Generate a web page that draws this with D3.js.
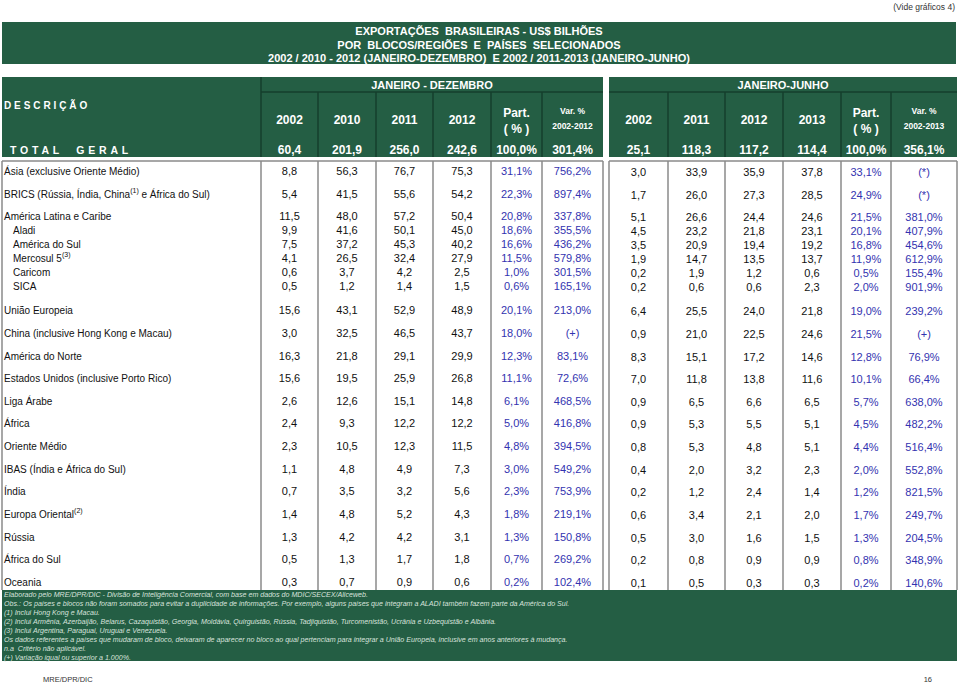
<!DOCTYPE html>
<html>
<head>
<meta charset="utf-8">
<script src="https://cdn.jsdelivr.net/npm/d3@7"></script>
<style>
  body { margin: 0; background: #fff; }
  svg { display: block; font-family: "Liberation Sans", Arial, sans-serif; }
</style>
</head>
<body>
<div id="chart"></div>
<script>
// ---- data (US$ bilhões) ----
var regions = [
  "Ásia (exclusive Oriente Médio)",
  "BRICS (Rússia, Índia, China^(1)^ e África do Sul)",
  "América Latina e Caribe",
  "Aladi",
  "América do Sul",
  "Mercosul 5^(3)^",
  "Caricom",
  "SICA",
  "União Europeia",
  "China (inclusive Hong Kong e Macau)",
  "América do Norte",
  "Estados Unidos (inclusive Porto Rico)",
  "Liga Árabe",
  "África",
  "Oriente Médio",
  "IBAS (Índia e África do Sul)",
  "Índia",
  "Europa Oriental^(2)^",
  "Rússia",
  "África do Sul",
  "Oceania"
];
// members of the bloc above (América Latina e Caribe)
var subRow = [false, false, false, true, true, true, true, true, false, false, false,
  false, false, false, false, false, false, false, false, false, false];

// JANEIRO - DEZEMBRO
var jd2002 = [8.8, 5.4, 11.5, 9.9, 7.5, 4.1, 0.6, 0.5, 15.6, 3.0, 16.3, 15.6, 2.6, 2.4, 2.3, 1.1, 0.7, 1.4, 1.3, 0.5, 0.3];
var jd2010 = [56.3, 41.5, 48.0, 41.6, 37.2, 26.5, 3.7, 1.2, 43.1, 32.5, 21.8, 19.5, 12.6, 9.3, 10.5, 4.8, 3.5, 4.8, 4.2, 1.3, 0.7];
var jd2011 = [76.7, 55.6, 57.2, 50.1, 45.3, 32.4, 4.2, 1.4, 52.9, 46.5, 29.1, 25.9, 15.1, 12.2, 12.3, 4.9, 3.2, 5.2, 4.2, 1.7, 0.9];
var jd2012 = [75.3, 54.2, 50.4, 45.0, 40.2, 27.9, 2.5, 1.5, 48.9, 43.7, 29.9, 26.8, 14.8, 12.2, 11.5, 7.3, 5.6, 4.3, 3.1, 1.8, 0.6];
var jdPart = [31.1, 22.3, 20.8, 18.6, 16.6, 11.5, 1.0, 0.6, 20.1, 18.0, 12.3, 11.1, 6.1, 5.0, 4.8, 3.0, 2.3, 1.8, 1.3, 0.7, 0.2];
var jdVar = [756.2, 897.4, 337.8, 355.5, 436.2, 579.8, 301.5, 165.1, 213.0, "(+)", 83.1, 72.6, 468.5, 416.8, 394.5, 549.2, 753.9, 219.1, 150.8, 269.2, 102.4];
var jdTotal = [60.4, 201.9, 256.0, 242.6, 100.0, 301.4];

// JANEIRO-JUNHO
var jj2002 = [3.0, 1.7, 5.1, 4.5, 3.5, 1.9, 0.2, 0.2, 6.4, 0.9, 8.3, 7.0, 0.9, 0.9, 0.8, 0.4, 0.2, 0.6, 0.5, 0.2, 0.1];
var jj2011 = [33.9, 26.0, 26.6, 23.2, 20.9, 14.7, 1.9, 0.6, 25.5, 21.0, 15.1, 11.8, 6.5, 5.3, 5.3, 2.0, 1.2, 3.4, 3.0, 0.8, 0.5];
var jj2012 = [35.9, 27.3, 24.4, 21.8, 19.4, 13.5, 1.2, 0.6, 24.0, 22.5, 17.2, 13.8, 6.6, 5.5, 4.8, 3.2, 2.4, 2.1, 1.6, 0.9, 0.3];
var jj2013 = [37.8, 28.5, 24.6, 23.1, 19.2, 13.7, 0.6, 2.3, 21.8, 24.6, 14.6, 11.6, 6.5, 5.1, 5.1, 2.3, 1.4, 2.0, 1.5, 0.9, 0.3];
var jjPart = [33.1, 24.9, 21.5, 20.1, 16.8, 11.9, 0.5, 2.0, 19.0, 21.5, 12.8, 10.1, 5.7, 4.5, 4.4, 2.0, 1.2, 1.7, 1.3, 0.8, 0.2];
var jjVar = ["(*)", "(*)", 381.0, 407.9, 454.6, 612.9, 155.4, 901.9, 239.2, "(+)", 76.9, 66.4, 638.0, 482.2, 516.4, 552.8, 821.5, 249.7, 204.5, 348.9, 140.6];
var jjTotal = [25.1, 118.3, 117.2, 114.4, 100.0, 356.1];

var titleLines = [
  "EXPORTAÇÕES  BRASILEIRAS - US$ BILHÕES",
  "POR  BLOCOS/REGIÕES  E  PAÍSES  SELECIONADOS",
  "2002 / 2010 - 2012 (JANEIRO-DEZEMBRO)  E 2002 / 2011-2013 (JANEIRO-JUNHO)"
];
var notes = [
  "Elaborado pelo MRE/DPR/DIC - Divisão de Inteligência Comercial, com base em dados do MDIC/SECEX/Aliceweb.",
  "Obs.: Os países e blocos não foram somados para evitar a duplicidade de informações. Por exemplo, alguns países que integram a ALADI também fazem parte da América do Sul.",
  "(1) Inclui Hong Kong e Macau.",
  "(2) Inclui Armênia, Azerbaijão, Belarus, Cazaquistão, Georgia, Moldávia, Quirguistão, Rússia, Tadjiquistão, Turcomenistão, Ucrânia e Uzbequistão e Albânia.",
  "(3) Inclui Argentina, Paraguai, Uruguai e Venezuela.",
  "Os dados referentes a países que mudaram de bloco, deixaram de aparecer no bloco ao qual pertenciam para integrar a União Europeia, inclusive em anos anteriores à mudança.",
  "n.a  Critério não aplicável.",
  "(+) Variação igual ou superior a 1.000%."
];

var blocks = [
  { label: "JANEIRO - DEZEMBRO", heads: ["2002", "2010", "2011", "2012", "Part.", "Var. %"], sub: "2002-2012",
    cols: [jd2002, jd2010, jd2011, jd2012, jdPart, jdVar], total: jdTotal },
  { label: "JANEIRO-JUNHO", heads: ["2002", "2011", "2012", "2013", "Part.", "Var. %"], sub: "2002-2013",
    cols: [jj2002, jj2011, jj2012, jj2013, jjPart, jjVar], total: jjTotal }
];

// ---- layout ----
var W = 960, H = 685;
var green = "#245e44", dark = "#153f2c", blue = "#3333b0", grid = "#8a8a8a";
var edges = [
  [261, 318, 376, 433, 491, 542, 603],
  [609, 668, 725, 783, 841, 891, 957]
];
var left = 2, right = 957;

var loc = d3.formatLocale({ decimal: ",", thousands: ".", grouping: [3], currency: ["", ""] });
var f1 = loc.format(".1f");
function fmt(v, pct) {
  if (typeof v !== "number") return v;
  return f1(v) + (pct ? "%" : "");
}

// vertical position of rows: bloc members sit closer together
var units = [], u = 0;
regions.forEach(function(d, i) {
  if (i > 0) u += subRow[i] ? 1 : (subRow[i - 1] ? 1.72 : 1.62);
  units.push(u);
});
var y = d3.scaleLinear().domain([0, u]).range([171, 582]);

var svg = d3.select("#chart").append("svg")
  .attr("width", W).attr("height", H);

svg.append("text")
  .attr("x", 955).attr("y", 7)
  .attr("text-anchor", "end")
  .attr("dominant-baseline", "central")
  .attr("fill", "#333")
  .style("font-size", "8.5px")
  .text("(Vide gráficos 4)");

// title band
svg.append("rect")
  .attr("x", left).attr("y", 22).attr("width", right - left - 1).attr("height", 42)
  .attr("fill", green);
svg.selectAll("text.title")
  .data(titleLines)
  .enter().append("text")
  .attr("class", "title")
  .attr("x", 479).attr("y", function(d, i) { return 31 + i * 13.5; })
  .attr("text-anchor", "middle")
  .attr("dominant-baseline", "central")
  .attr("fill", "#fff")
  .style("font-size", "11px").style("font-weight", "bold")
  .style("white-space", "pre")
  .text(function(d) { return d; });

// header
var hTop = 77, hMid = 92, hBot = 157;
svg.append("rect")
  .attr("x", left).attr("y", hTop).attr("width", edges[0][6] - left).attr("height", hBot - hTop)
  .attr("fill", green);
svg.append("rect")
  .attr("x", edges[1][0]).attr("y", hTop).attr("width", edges[1][6] - edges[1][0]).attr("height", hBot - hTop)
  .attr("fill", green);

svg.append("text")
  .attr("x", 4).attr("y", 105)
  .attr("dominant-baseline", "central")
  .attr("fill", "#fff")
  .style("font-size", "10px").style("font-weight", "bold").style("letter-spacing", "2.9px")
  .text("DESCRIÇÃO");
svg.append("text")
  .attr("x", 10).attr("y", 150)
  .attr("dominant-baseline", "central")
  .attr("fill", "#fff")
  .style("font-size", "10.5px").style("font-weight", "bold").style("letter-spacing", "3.8px")
  .style("white-space", "pre")
  .text("TOTAL  GERAL");

svg.append("line")
  .attr("x1", edges[0][0]).attr("x2", edges[0][0]).attr("y1", hTop).attr("y2", hBot)
  .attr("stroke", dark).attr("stroke-width", 1.5);

blocks.forEach(function(b, bi) {
  var e = edges[bi];
  var g = svg.append("g");
  var cx = function(i) { return (e[i] + e[i + 1]) / 2; };

  g.append("text")
    .attr("x", (e[0] + e[6]) / 2).attr("y", 85)
    .attr("text-anchor", "middle").attr("dominant-baseline", "central")
    .attr("fill", "#fff")
    .style("font-size", "11px").style("font-weight", "bold")
    .text(b.label);

  g.append("line")
    .attr("x1", e[0]).attr("x2", e[6]).attr("y1", hMid).attr("y2", hMid)
    .attr("stroke", dark).attr("stroke-width", 1.5);
  g.selectAll("line.vh")
    .data(e.slice(1, 6))
    .enter().append("line")
    .attr("class", "vh")
    .attr("x1", function(d) { return d; }).attr("x2", function(d) { return d; })
    .attr("y1", hMid).attr("y2", hBot)
    .attr("stroke", dark).attr("stroke-width", 1.5);

  // column heads
  b.heads.forEach(function(h, i) {
    if (i < 4) {
      g.append("text")
        .attr("x", cx(i)).attr("y", 120)
        .attr("text-anchor", "middle").attr("dominant-baseline", "central")
        .attr("fill", "#fff")
        .style("font-size", "12px").style("font-weight", "bold")
        .text(h);
    } else if (i === 4) {
      g.append("text")
        .attr("x", cx(i)).attr("y", 113)
        .attr("text-anchor", "middle").attr("dominant-baseline", "central")
        .attr("fill", "#fff")
        .style("font-size", "12px").style("font-weight", "bold")
        .text(h);
      g.append("text")
        .attr("x", cx(i)).attr("y", 129)
        .attr("text-anchor", "middle").attr("dominant-baseline", "central")
        .attr("fill", "#fff")
        .style("font-size", "12px").style("font-weight", "bold")
        .style("white-space", "pre")
        .text("( % )");
    } else {
      g.append("text")
        .attr("x", cx(i)).attr("y", 111)
        .attr("text-anchor", "middle").attr("dominant-baseline", "central")
        .attr("fill", "#fff")
        .style("font-size", "8.5px").style("font-weight", "bold")
        .text(h);
      g.append("text")
        .attr("x", cx(i)).attr("y", 126)
        .attr("text-anchor", "middle").attr("dominant-baseline", "central")
        .attr("fill", "#fff")
        .style("font-size", "8.5px").style("font-weight", "bold")
        .text(b.sub);
    }
  });

  g.selectAll("text.tot")
    .data(b.total)
    .enter().append("text")
    .attr("class", "tot")
    .attr("x", function(d, i) { return cx(i); }).attr("y", 150)
    .attr("text-anchor", "middle").attr("dominant-baseline", "central")
    .attr("fill", "#fff")
    .style("font-size", "12px").style("font-weight", "bold")
    .text(function(d, i) { return fmt(d, i >= 4); });

  // body grid
  var bTop = 161, bBot = 590;
  g.append("line")
    .attr("x1", bi === 0 ? left : e[0]).attr("x2", e[6]).attr("y1", bTop).attr("y2", bTop)
    .attr("stroke", grid).attr("stroke-width", 1.5);
  g.selectAll("line.vb")
    .data(e)
    .enter().append("line")
    .attr("class", "vb")
    .attr("x1", function(d) { return d; }).attr("x2", function(d) { return d; })
    .attr("y1", bTop).attr("y2", bBot)
    .attr("stroke", grid).attr("stroke-width", 1.5);

  // values
  b.cols.forEach(function(col, ci) {
    g.selectAll("text.c" + ci)
      .data(col)
      .enter().append("text")
      .attr("class", "c" + ci)
      .attr("x", cx(ci))
      .attr("y", function(d, i) { return y(units[i]) + bi; })
      .attr("text-anchor", "middle").attr("dominant-baseline", "central")
      .attr("fill", ci >= 4 ? blue : "#111")
      .style("font-size", "11px")
      .text(function(d) { return fmt(d, ci >= 4); });
  });
});

svg.append("line")
  .attr("x1", left).attr("x2", left).attr("y1", 161).attr("y2", 590)
  .attr("stroke", grid).attr("stroke-width", 1.5);

// row labels, with superscript note markers between ^...^
var labels = svg.selectAll("text.lab")
  .data(regions)
  .enter().append("text")
  .attr("class", "lab")
  .attr("x", function(d, i) { return subRow[i] ? 13 : 4; })
  .attr("y", function(d, i) { return y(units[i]); })
  .attr("dominant-baseline", "central")
  .attr("fill", "#111")
  .style("font-size", "10px");
labels.each(function(d) {
  var t = d3.select(this);
  d.split("^").forEach(function(part, k) {
    if (!part) return;
    var s = t.append("tspan").text(part);
    if (k % 2 === 1) s.attr("dy", "-4").style("font-size", "7px");
    else if (k > 0) s.attr("dy", "4");
  });
});

// notes band
svg.append("rect")
  .attr("x", left).attr("y", 590).attr("width", right - left).attr("height", 71)
  .attr("fill", green);
svg.selectAll("text.note")
  .data(notes)
  .enter().append("text")
  .attr("class", "note")
  .attr("x", 4).attr("y", function(d, i) { return 594.5 + i * 9; })
  .attr("dominant-baseline", "central")
  .attr("fill", "#d8e2dc")
  .style("font-size", "7.1px").style("font-style", "italic")
  .style("white-space", "pre")
  .text(function(d) { return d; });

svg.append("text")
  .attr("x", 43).attr("y", 679)
  .attr("dominant-baseline", "central").attr("fill", "#333")
  .style("font-size", "7.5px")
  .text("MRE/DPR/DIC");
svg.append("text")
  .attr("x", 932).attr("y", 679)
  .attr("text-anchor", "end")
  .attr("dominant-baseline", "central").attr("fill", "#333")
  .style("font-size", "7.5px")
  .text("16");
</script>
</body>
</html>
